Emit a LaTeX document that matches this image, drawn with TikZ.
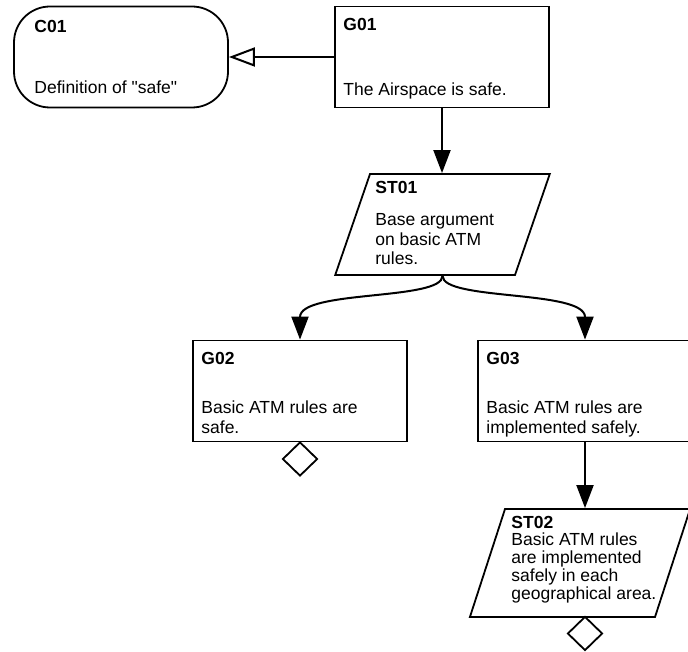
\documentclass[tikz,border=0pt]{standalone}
\usepackage{fontspec}
\newfontfamily\gsnfont{Liberation Sans}
\usetikzlibrary{shapes.geometric,arrows.meta}

\begin{document}
\begin{tikzpicture}[x=0.5pt,y=-0.5pt,
  every node/.style={inner sep=0pt},
  txt/.style={anchor=base west,align=left,font=\gsnfont\fontsize{8.75}{10}\selectfont},
  ttl/.style={anchor=base west,font=\gsnfont\fontsize{8.75}{10}\selectfont\bfseries},
  goalbox/.style={draw,line width=0.9pt,minimum width=107pt,minimum height=50.5pt},
  ctxbox/.style={goalbox,rounded corners=18pt},
  stratbox/.style={draw,line width=0.9pt,trapezium,trapezium left angle=71,
    trapezium right angle=109,text depth=0pt},
  undev/.style={draw,line width=0.9pt,diamond,minimum width=17.5pt,minimum height=17pt},
  conn/.style={line width=1pt,-{Triangle[length=11.5pt,width=8.5pt]}},
  ctxconn/.style={line width=1pt,-{Triangle[open,length=13pt,width=9.5pt]}}]
\useasboundingbox (0,0) rectangle (688,651);

% Top goal and context
\node[ctxbox] (C01) at (121,57) {};
\node[ttl] (C01t) at (34,33) {C01};
\node[txt] (C01b) at (34,94) {Definition of "safe"};
\node[goalbox] (G01) at (442,57) {};
\node[ttl] (G01t) at (343,31) {G01};
\node[txt] (G01b) at (343,96) {The Airspace is safe.};
\draw[ctxconn] (G01.west) -- (C01.east);

% Strategy
\node[stratbox,text width=72.5pt,text height=50.5pt] (ST01) at (442.5,224.5) {};
\node[ttl] (ST01t) at (375,194) {ST01};
\node[txt,font=\gsnfont\fontsize{8.75}{9.75}\selectfont] (ST01b) at (375,265)
  {Base argument\\on basic ATM\\rules.};
\draw[conn] (G01.south) -- (G01.south |- ST01.north);

% Sub-goals
\node[goalbox] (G02) at (300,391) {};
\node[ttl] (G02t) at (201,364) {G02};
\node[txt] (G02b) at (201,433) {Basic ATM rules are\\safe.};
\node[goalbox] (G03) at (585,391) {};
\node[ttl] (G03t) at (486,364) {G03};
\node[txt] (G03b) at (486,433) {Basic ATM rules are\\implemented safely.};
\draw[conn] (ST01.south) .. controls +(0,25) and +(0,-50) .. (G02.north);
\draw[conn] (ST01.south) .. controls +(0,25) and +(0,-50) .. (G03.north);
\node[undev] (U02) at (300,459) {};

% Second strategy
\node[stratbox,trapezium left angle=72,trapezium right angle=108,
  text width=75pt,text height=54pt] (ST02) at (580,563) {};
\node[ttl] (ST02t) at (511,528) {ST02};
\node[txt,font=\gsnfont\fontsize{8.75}{9}\selectfont] (ST02b) at (511,599)
  {Basic ATM rules\\are implemented\\safely in each\\geographical area.};
\draw[conn] (G03.south) -- (G03.south |- ST02.north);
\node[undev] (U03) at (585,633.5) {};
\end{tikzpicture}
\end{document}
